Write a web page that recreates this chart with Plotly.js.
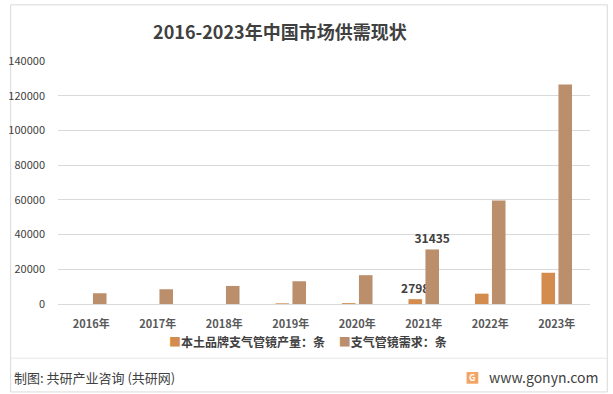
<!DOCTYPE html>
<html>
<head>
<meta charset="utf-8">
<script src="https://cdn.plot.ly/plotly-3.0.1.min.js"></script>
<style>
html,body{margin:0;padding:0;background:#fff;}
#chart{width:613px;height:394px;}
</style>
</head>
<body>
<div id="chart"></div>
<script>
const years = ["2016年","2017年","2018年","2019年","2020年","2021年","2022年","2023年"];
const seriesNames = ["本土品牌支气管镜产量：条","支气管镜需求：条"];
const production = [null, null, null, 400, 500, 2798, 5950, 18000];
const demand = [6200, 8500, 10400, 13100, 16600, 31435, 59700, 126500];
const productionLabels = ["", "", "", "", "", "2798", "", ""];
const demandLabels = ["", "", "", "", "", "31435", "", ""];
const yTicks = [0, 20000, 40000, 60000, 80000, 100000, 120000, 140000];
const colors = ["#D48C4E", "#BB8E6C"];

const font = "'Noto Sans CJK SC', 'Noto Sans', sans-serif";

const traces = [
  {
    type: "bar", name: seriesNames[0], x: years, y: production,
    marker: {color: colors[0]},
    text: productionLabels, textposition: "outside", cliponaxis: false, constraintext: "none",
    textfont: {family: font, size: 12, color: "#404040", weight: "bold"}
  },
  {
    type: "bar", name: seriesNames[1], x: years, y: demand,
    marker: {color: colors[1]},
    text: demandLabels, textposition: "outside", cliponaxis: false, constraintext: "none",
    textfont: {family: font, size: 12, color: "#404040", weight: "bold"}
  }
];

const legendText = seriesNames.map((n, i) =>
  "<span style='color:" + colors[i] + "'>■</span>" + n).join("&nbsp;&nbsp;&nbsp;&nbsp;&nbsp;");

const layout = {
  width: 613, height: 394,
  margin: {l: 58, r: 23, t: 61, b: 90},
  paper_bgcolor: "#fff", plot_bgcolor: "#fff",
  font: {family: font, color: "#595959", size: 11},
  title: {
    text: "2016-2023年中国市场供需现状",
    font: {family: font, size: 18, color: "#404040", weight: "bold"},
    x: 0.417, xanchor: "center", y: 0.918, yanchor: "middle", xref: "paper"
  },
  barmode: "group", bargap: 0.49, bargroupgap: 0.2,
  xaxis: {
    type: "category", showgrid: false, showline: true, linecolor: "#d9d9d9", linewidth: 1,
    ticks: "", ticklabelstandoff: 10,
    tickfont: {family: font, size: 11, color: "#595959", weight: "bold"},
    zeroline: false
  },
  yaxis: {
    range: [0, 140000], tickvals: yTicks, ticktext: yTicks.map(String),
    showgrid: true, gridcolor: "#d9d9d9", gridwidth: 1, zeroline: false,
    showline: false, ticks: "", ticklabelstandoff: 12,
    tickfont: {family: font, size: 11, color: "#404040"}
  },
  showlegend: false,
  shapes: [
    {type: "rect", xref: "paper", yref: "paper", x0: -0.089, x1: 1.0325, y0: -0.362, y1: 1.231,
     line: {color: "#d9d9d9", width: 1}, fillcolor: "rgba(0,0,0,0)", layer: "below"},
    {type: "line", xref: "paper", yref: "paper", x0: -0.089, x1: 1.0325, y0: -0.223, y1: -0.223,
     line: {color: "#e6e6e6", width: 1}},
    {type: "rect", xref: "paper", yref: "paper", x0: 0.768, x1: 0.79, y0: -0.328, y1: -0.28,
     line: {width: 0}, fillcolor: "#F4A460"}
  ],
  annotations: [
    {text: legendText, xref: "paper", yref: "paper", x: 0.47, y: -0.153,
     xanchor: "center", yanchor: "middle", showarrow: false,
     font: {family: font, size: 12, color: "#404040", weight: "bold"}},
    {text: "制图: 共研产业咨询 (共研网)", xref: "paper", yref: "paper", x: -0.086, y: -0.302,
     xanchor: "left", yanchor: "middle", showarrow: false,
     font: {family: font, size: 13, color: "#404040"}},
    {text: "www.gonyn.com", xref: "paper", yref: "paper", x: 1.018, y: -0.302,
     xanchor: "right", yanchor: "middle", showarrow: false,
     font: {family: font, size: 14, color: "#404040"}},
    {text: "<b>G</b>", xref: "paper", yref: "paper", x: 0.779, y: -0.304,
     xanchor: "center", yanchor: "middle", showarrow: false,
     font: {family: font, size: 9, color: "#fff"}}
  ]
};

Plotly.newPlot("chart", traces, layout, {displayModeBar: false, staticPlot: true});
</script>
</body>
</html>
